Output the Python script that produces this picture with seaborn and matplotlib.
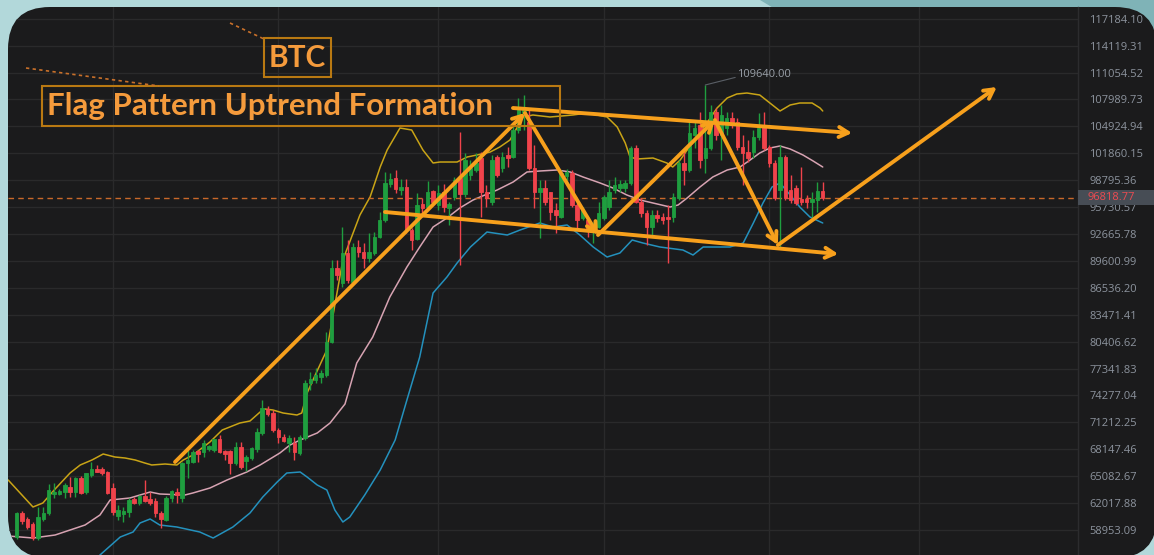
import numpy as np
import pandas as pd
import matplotlib
matplotlib.use("Agg")
import matplotlib.pyplot as plt
import seaborn as sns
from matplotlib.patches import FancyBboxPatch, Rectangle, Polygon
from matplotlib.transforms import blended_transform_factory

# ---------------- data (daily candles, index 0..151) ----------------
opens = [58156, 60889, 60206, 59636, 58042, 60206, 60889, 63054, 63054, 63281,
         63851, 63281, 64876, 63281, 65218, 65915, 65901, 65559, 63737, 60548,
         60775, 61003, 62484, 62029, 62826, 62484, 62257, 60889, 60092, 62598,
         63281, 62598, 66584, 66698, 67951, 67837, 68179, 68065, 69318, 67951,
         67951, 66584, 68407, 66812, 67154, 68179, 70001, 72735, 72279, 70343,
         69546, 68862, 68862, 67723, 69432, 75696, 76038, 76380, 76608, 80366,
         88795, 87086, 90503, 87200, 91187, 90617, 89934, 90503, 92326, 94262,
         98362, 99046, 97679, 98021, 93123, 92098, 96084, 95742, 97565, 95970,
         97451, 95629, 96882, 99046, 97223, 99388, 99957, 101324, 97451, 96312,
         101438, 100185, 101666, 101438, 104513, 106449, 105424, 100185, 97451, 97907,
         97451, 95401, 94604, 99274, 99615, 95970, 94490, 94262, 92895, 93465,
         94490, 95742, 97679, 97907, 97907, 98476, 102463, 96312, 95059, 93465,
         94832, 94604, 94604, 94604, 96768, 100754, 99957, 103944, 105083, 101324,
         102463, 106563, 103944, 104741, 105880, 105424, 102577, 102007, 102007, 103716,
         105083, 102577, 100754, 97679, 101438, 97679, 97907, 96654, 96654, 96312,
         96540, 97565]
highs = [61003, 61117, 60434, 59864, 61573, 61573, 64192, 64306, 63624, 64306,
         64990, 64990, 65104, 65445, 66698, 66356, 66129, 65673, 64306, 61800,
         61573, 62598, 62712, 62940, 64648, 63281, 62598, 61117, 62826, 63509,
         63737, 66698, 68065, 68065, 68065, 69204, 68635, 69318, 69774, 68065,
         68065, 68976, 68976, 67496, 68407, 70571, 73760, 73077, 72621, 70571,
         69888, 69774, 69546, 69774, 76038, 76949, 77405, 77177, 81505, 89706,
         89706, 93465, 91984, 91643, 91984, 91643, 92781, 92895, 95173, 99729,
         99615, 99957, 98932, 98932, 93351, 97337, 96768, 98682, 97679, 98249,
         98362, 96312, 99160, 104285, 101893, 101096, 101893, 102007, 98249, 101666,
         101666, 102007, 102577, 105083, 108158, 108500, 106791, 102805, 98818, 98818,
         97451, 96198, 99957, 100071, 99957, 96198, 95743, 94604, 94034, 96312,
         97110, 98818, 99160, 98818, 98818, 102691, 102805, 96768, 95401, 95401,
         95401, 95059, 95970, 97337, 101096, 102235, 105652, 105424, 106563, 109640,
         107361, 107019, 107361, 106563, 106563, 105880, 103944, 103374, 104513, 106449,
         106563, 102805, 101096, 102805, 101666, 99387, 98249, 100306, 97110, 97451,
         98591, 98591]
lows = [57928, 59636, 59067, 57814, 57814, 59978, 60662, 62598, 62940, 62598,
        62712, 62712, 63054, 63054, 64990, 65559, 65218, 63054, 60662, 60092,
        59864, 60434, 61914, 61800, 62142, 61800, 60434, 59181, 59978, 62142,
        62029, 62142, 64876, 66584, 66698, 67267, 67951, 67837, 67723, 66926,
        65331, 66356, 65915, 65673, 66926, 67837, 69774, 71938, 70115, 68862,
        68976, 67837, 66926, 67496, 69204, 74899, 75696, 75696, 76380, 80252,
        87428, 86631, 87086, 87086, 90047, 88795, 89478, 90275, 92212, 94034,
        98021, 97337, 97110, 92781, 90845, 91984, 95059, 95629, 96198, 95401,
        95173, 93693, 96540, 89136, 96882, 98818, 99729, 94604, 95743, 95970,
        99160, 99729, 100299, 101324, 104171, 104513, 99957, 95629, 92212, 95970,
        94262, 92781, 94490, 98818, 95743, 93351, 94262, 92326, 91643, 93351,
        94262, 95401, 97337, 97451, 97451, 98249, 96198, 94604, 91415, 92326,
        94034, 93806, 89364, 94034, 96540, 98249, 99729, 102463, 100185, 99615,
        102235, 103374, 101096, 103944, 104741, 102235, 98249, 100868, 101324, 103374,
        102235, 100299, 96540, 91187, 96540, 96198, 95970, 95970, 95629, 94604,
        95173, 96540]
closes = [60889, 59978, 59295, 58042, 60434, 60889, 63509, 63281, 63395, 64079,
          63281, 64876, 63168, 65445, 65915, 65559, 65445, 63168, 61003, 61231,
          61117, 62370, 62029, 62826, 62257, 62029, 60889, 60206, 62598, 63395,
          62940, 66584, 66926, 67837, 67609, 68861, 68521, 69318, 67837, 67609,
          66584, 68407, 66129, 67267, 68293, 70115, 72849, 72165, 70343, 69546,
          69090, 69432, 67837, 69546, 75696, 76152, 76608, 76835, 80366, 88795,
          87998, 90503, 87428, 91187, 90617, 89934, 90617, 92326, 94262, 98476,
          98932, 97793, 98021, 93123, 91984, 95970, 95629, 97451, 96312, 97337,
          95742, 96084, 98818, 97223, 101096, 100185, 100754, 97451, 96768, 101096,
          99388, 101438, 101324, 104513, 106791, 107019, 100185, 97451, 97907, 96312,
          95173, 94832, 99615, 99729, 95970, 94262, 95401, 93123, 93920, 95059,
          96882, 97451, 98249, 98362, 98476, 102463, 96312, 95059, 93465, 94832,
          94490, 94262, 94376, 96882, 100754, 99957, 104172, 104741, 101096, 102463,
          106563, 103944, 106222, 105880, 105083, 102577, 101893, 101324, 103716, 104741,
          102463, 100754, 96768, 101438, 96768, 96540, 96198, 96312, 96312, 96654,
          97565, 96818.77]

# Bollinger band readings (candle index, price)
upper_idx = [-1.6, 3.05, 4.9, 7.2, 10.0, 11.9, 14.1, 16.2, 18.4, 20.3, 22.2, 24.0, 25.3, 27.8, 30.0,
             31.2, 33.0, 36.2, 38.5, 41.8, 43.7, 45.6, 46.5, 48.0, 49.9, 52.5, 53.4, 54.4, 55.5, 58.1,
             60.0, 61.1, 64.3, 66.2, 68.1, 69.4, 71.8, 74.0, 76.1, 78.0, 79.3, 82.5, 84.4, 86.2, 88.7,
             90.5, 92.4, 93.7, 94.9, 96.7, 99.9, 104.2, 106.8, 110.6, 112.5, 114.0, 114.9, 116.2, 119.2,
             121.8, 122.9, 124.3, 125.6, 127.4, 129.3, 131.2, 133.1, 134.9, 136.8, 139.2, 141.1, 143.0,
             144.9, 146.7, 149.0, 150.5, 151.0]
upper_val = [64648, 61573, 62029, 63624, 65449, 66358, 66926, 67610, 67268, 67154, 66926, 66584, 66358, 66470, 66358,
             66926, 67496, 68976, 70343, 71140, 71368, 72393, 72735, 72621, 72279, 72052, 72279, 74557, 76038, 79455,
             85947, 89706, 94832, 96882, 100303, 102235, 104741, 104513, 102235, 100755, 100868, 100868, 101438, 101665, 102007,
             102577, 103374, 104741, 105994, 106222, 105994, 106222, 106449, 105994, 104855, 103032, 101438, 101210, 101324,
             100755, 100299, 101096, 102235, 103716, 105310, 107019, 108158, 108614, 108727, 108500, 107589, 106678,
             107361, 107589, 107589, 107019, 106678]
mid_idx = [-1.6, 3.05, 7.2, 10.0, 12.8, 15.6, 17.5, 21.2, 25.0, 26.8, 31.5, 33.0, 36.2, 39.4, 43.1, 45.6,
           49.3, 51.2, 53.1, 56.3, 58.7, 61.5, 63.7, 66.7, 69.9, 73.1, 75.5, 78.0, 80.6, 83.0, 85.5, 86.8,
           90.0, 93.0, 95.6, 98.0, 101.2, 103.7, 106.1, 109.3, 111.7, 114.3, 116.8, 119.2, 122.4, 123.9,
           125.6, 128.0, 130.4, 133.1, 135.5, 137.4, 139.2, 141.1, 143.0, 144.9, 147.3, 149.2, 151.0]
mid_val = [58270, 58042, 58384, 58953, 59522, 60662, 62370, 62598, 63281, 63054, 62940, 63168, 63737, 64648, 65559, 66358,
           67723, 68635, 69204, 70002, 71140, 73304, 77975, 80936, 85492, 88909, 91187, 93465, 94490, 95629, 96540, 96882,
           97679, 98591, 99730, 99843, 99957, 99730, 99160, 98476, 97907, 97110, 96540, 96198, 95742, 95970,
           96768, 98021, 99160, 99957, 100299, 101096, 101893, 102463, 102690, 102349, 101666, 100982, 100299]
lower_idx = [10.0, 12.8, 15.6, 19.4, 21.8, 23.1, 25.0, 26.8, 30.0, 34.3, 36.8, 40.5, 43.7, 46.1, 48.8, 50.6,
             53.1, 54.4, 56.3, 58.1, 59.6, 61.1, 62.4, 65.2, 68.1, 70.9, 73.1, 75.5, 78.0, 80.6, 82.5, 85.0,
             88.1, 91.9, 94.3, 98.0, 100.5, 103.1, 105.5, 108.0, 110.6, 113.0, 115.3, 117.3, 120.5, 124.8,
             126.7, 128.6, 133.6, 136.1, 138.0, 139.8, 141.5, 143.0, 144.9, 146.7, 148.6, 151.0]
lower_val = [52119, 53827, 56106, 58156, 58725, 59750, 60206, 59522, 59295, 58725, 58042, 59295, 60889, 62712, 64420, 65445,
             65559, 64990, 64079, 63509, 61231, 59864, 60434, 62940, 65787, 69204, 73760, 78657, 85947, 87770, 89364, 91187,
             92895, 92553, 93123, 93923, 93465, 93693, 92554, 91187, 90047, 90503, 91984, 91643, 91187, 90845,
             90276, 91187, 91187, 91643, 93920, 96198, 98021, 98476, 97110, 95743, 94604, 93921]

price_ticks = [117184.10, 114119.31, 111054.52, 107989.73, 104924.94, 101860.15, 98795.36, 95730.57,
               92665.78, 89600.99, 86536.20, 83471.41, 80406.62, 77341.83, 74277.04, 71212.25,
               68147.46, 65082.67, 62017.88, 58953.09]
month_starts = [18, 49, 79, 110, 141, 169]
last_price = 96818.77
ath_label = "109640.00"

# ---------------- figure ----------------
sns.set_theme(style="dark")
plt.rcParams['font.family'] = ['Open Sans', 'DejaVu Sans']

W, H = 1154, 555
fig = plt.figure(figsize=(W / 100, H / 100), dpi=100)
fig.patch.set_facecolor('#b2d8da')

bg = fig.add_axes([0, 0, 1, 1])
bg.set_xlim(0, W); bg.set_ylim(H, 0); bg.axis('off')
bg.add_patch(Polygon([(760, 0), (1154, 0), (1154, 40), (980, 40), (780, 12)], closed=True,
                     fc='#7fb3b7', ec='none'))
panel = FancyBboxPatch((8, 7), 1149, 551, boxstyle="round,pad=0,rounding_size=42",
                       fc='#1b1b1c', ec='none')
bg.add_patch(panel)

ax = fig.add_axes([8 / W, 0, 1070 / W, 548 / H])
ax.set_facecolor('none')
x_left, x_right = -1.63, 198.82
ax.set_xlim(x_left, x_right)
ax.set_ylim(56106, 118523)

df = pd.DataFrame({'o': opens, 'h': highs, 'l': lows, 'c': closes})
df['i'] = np.arange(len(df))
up = df['c'] >= df['o']
green, red = '#1f9e3f', '#f0434b'
cols = np.where(up, green, red)
ax.vlines(df['i'], df['l'], df['h'], colors=cols, lw=1.0, zorder=3)
body_lo = np.minimum(df['o'], df['c'])
body_h = np.maximum(np.abs(df['c'] - df['o']), 130)
ax.bar(df['i'], body_h, bottom=body_lo, width=0.66, color=cols, edgecolor=cols, lw=0.6, zorder=4)

sns.lineplot(x=upper_idx, y=upper_val, ax=ax, color='#c9a416', lw=1.1, sort=False, estimator=None, zorder=2)
sns.lineplot(x=mid_idx, y=mid_val, ax=ax, color='#d7a3b2', lw=1.1, sort=False, estimator=None, zorder=2)
sns.lineplot(x=lower_idx, y=lower_val, ax=ax, color='#2491bd', lw=1.1, sort=False, estimator=None, zorder=2)

# grid & axis
ax.set_yticks(price_ticks)
ax.set_yticklabels([f"{t:.2f}" for t in price_ticks])
ax.yaxis.tick_right()
ax.tick_params(axis='y', length=0, pad=8, labelsize=8, labelcolor='#8d949e')
ax.set_xticks(month_starts)
ax.tick_params(axis='x', length=0, labelbottom=False)
ax.grid(True, color='#2a2a2b', lw=1.0)
ax.set_axisbelow(True)
for s in ['top', 'left', 'bottom']:
    ax.spines[s].set_visible(False)
ax.spines['right'].set_color('#2c2c2e')
ax.spines['right'].set_linewidth(1)

# current price line and tag
ax.axhline(last_price, color='#c9682a', lw=1.0, ls=(0, (4, 3)), zorder=2)
tr = blended_transform_factory(ax.transAxes, ax.transData)
ax.add_patch(Rectangle((1.0, last_price - 900), 80 / 1070, 1800, transform=tr, clip_on=False,
                       fc='#474d55', ec='none', zorder=10))
ax.text(1.0 + 9 / 1070, last_price, f"{last_price:.2f}", transform=tr, ha='left', va='center',
        fontsize=8, color='#ee4b52', zorder=11, clip_on=False)

# ATH label
ax.plot([129, 134.6], [109640, 110500], color='#5a5f66', lw=0.8, zorder=5)
ax.text(134.9, 110890, ath_label, color='#9aa0a8', fontsize=8, va='center', ha='left', zorder=6)

# orange drawings
orange = '#f7a01c'
def arrow(p0, p1):
    ax.annotate('', xy=p1, xytext=p0,
                arrowprops=dict(arrowstyle='->,head_length=0.55,head_width=0.3', color=orange,
                                lw=2.8, shrinkA=0, shrinkB=0), zorder=8)

A = (29.66, 66698); B = (95.2, 106449); C = (108.9, 92554)
D = (130.8, 105652); E = (142.6, 91415); F = (183.6, 109411)
arrow(A, B); arrow(B, C); arrow(C, D); arrow(D, E); arrow(E, F)
arrow((92.97, 107019), (156.5, 104172))
arrow((69.0, 95173), (153.9, 90389))

for art in list(ax.lines) + list(ax.collections) + list(ax.patches):
    if art.get_clip_on():
        art.set_clip_path(panel)
for g in ax.xaxis.get_gridlines() + ax.yaxis.get_gridlines():
    g.set_clip_path(panel)

# text boxes overlay
ov = fig.add_axes([0, 0, 1, 1], facecolor='none')
ov.set_xlim(0, W); ov.set_ylim(H, 0); ov.axis('off')
box_ec = '#b97912'
txt_c = '#f59b3c'
ov.add_patch(Rectangle((264, 38), 67, 39, fc='none', ec=box_ec, lw=1.5))
ov.add_patch(Rectangle((42, 86), 518, 40, fc='none', ec=box_ec, lw=1.5))
ov.text(297.5, 58, "BTC", ha='center', va='center', fontsize=21.5, fontweight='bold',
        color=txt_c, family=['Lato', 'DejaVu Sans'])
ov.text(47, 106, "Flag Pattern Uptrend Formation", ha='left', va='center', fontsize=22.5,
        fontweight='bold', color=txt_c, family=['Lato', 'DejaVu Sans'])
ov.plot([230, 264], [23, 39], color='#c8702a', lw=1.2, ls=(0, (2, 2)))
ov.plot([26, 159], [68, 86], color='#c8702a', lw=1.2, ls=(0, (2, 2)))

fig.savefig('out.png', dpi=100, facecolor=fig.get_facecolor())
